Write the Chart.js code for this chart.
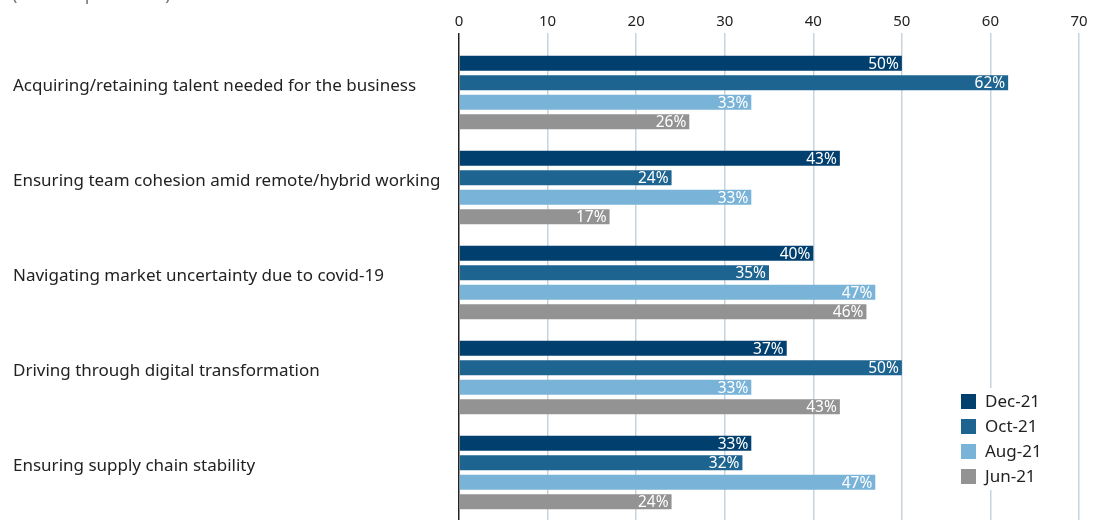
<!DOCTYPE html>
<html>
<head>
<meta charset="utf-8">
<script src="https://cdn.jsdelivr.net/npm/chart.js@4/dist/chart.umd.min.js"></script>
<style>
  html, body { margin: 0; padding: 0; background: #fff; }
  #wrap { width: 1106px; height: 520px; position: relative; }
</style>
</head>
<body>
<div id="wrap"><canvas id="challengesChart"></canvas></div>
<script>
const categories = [
  'Acquiring/retaining talent needed for the business',
  'Ensuring team cohesion amid remote/hybrid working',
  'Navigating market uncertainty due to covid-19',
  'Driving through digital transformation',
  'Ensuring supply chain stability'
];
const seriesNames = ['Dec-21', 'Oct-21', 'Aug-21', 'Jun-21'];
const dec21 = [50, 43, 40, 37, 33];
const oct21 = [62, 24, 35, 50, 32];
const aug21 = [33, 33, 47, 33, 47];
const jun21 = [26, 17, 46, 43, 24];
const xTicks = [0, 10, 20, 30, 40, 50, 60, 70];
const subtitle = '(% of respondents)';

const colors = ['#003f6e', '#1e6491', '#7ab3d8', '#939393'];
const FONT = "'Noto Sans', sans-serif";

// white value labels tucked inside the end of each bar
const valueLabels = {
  id: 'valueLabels',
  afterDatasetsDraw(chart) {
    const ctx = chart.ctx;
    ctx.save();
    ctx.font = '15.5px ' + FONT;
    ctx.fillStyle = '#fff';
    ctx.textAlign = 'right';
    ctx.textBaseline = 'middle';
    chart.data.datasets.forEach((ds, i) => {
      chart.getDatasetMeta(i).data.forEach((bar, j) => {
        ctx.fillText(ds.data[j] + '%', bar.x - 3, bar.y + 1);
      });
    });
    ctx.restore();
  }
};

// legend box sitting over the bottom-right of the plot
const boxLegend = {
  id: 'boxLegend',
  afterDraw(chart) {
    const ctx = chart.ctx;
    ctx.save();
    ctx.fillStyle = '#fff';
    ctx.fillRect(948, 388, 104, 102);
    ctx.font = '17px ' + FONT;
    ctx.textBaseline = 'middle';
    ctx.textAlign = 'left';
    chart.data.datasets.forEach((ds, i) => {
      const y = 401 + i * 25;
      ctx.fillStyle = ds.backgroundColor;
      ctx.fillRect(961, y - 7, 15, 15);
      ctx.fillStyle = '#222';
      ctx.fillText(ds.label, 985, y + 1);
    });
    ctx.restore();
  }
};

// subtitle line, mostly cut off at the top edge
const subtitleText = {
  id: 'subtitleText',
  afterDraw(chart) {
    const ctx = chart.ctx;
    ctx.save();
    ctx.font = '18px ' + FONT;
    ctx.fillStyle = '#777';
    ctx.textBaseline = 'alphabetic';
    ctx.fillText(subtitle, 12, 0);
    ctx.restore();
  }
};

const seriesData = [dec21, oct21, aug21, jun21];

new Chart(document.getElementById('challengesChart'), {
  type: 'bar',
  data: {
    labels: categories,
    datasets: seriesNames.map((name, i) => ({
      label: name,
      data: seriesData[i],
      backgroundColor: colors[i],
      borderWidth: 0,
      barPercentage: 0.77,
      categoryPercentage: 0.82
    }))
  },
  options: {
    indexAxis: 'y',
    responsive: true,
    maintainAspectRatio: false,
    animation: false,
    layout: {padding: {left: 13, right: 27, top: 0, bottom: 0}},
    plugins: {
      legend: {display: false},
      tooltip: {enabled: false}
    },
    scales: {
      x: {
        position: 'top',
        min: 0,
        max: 70,
        afterBuildTicks: scale => { scale.ticks = xTicks.map(v => ({value: v})); },
        afterFit: scale => { scale.height = 45; scale.paddingLeft = 0; scale.paddingRight = 0; },
        border: {display: false},
        grid: {
          color: c => c.tick.value === 0 ? '#222' : '#c5d4df',
          lineWidth: 1.5,
          tickLength: 12,
          drawTicks: true
        },
        ticks: {
          color: '#222',
          font: {family: FONT, size: 15},
          padding: 2
        }
      },
      y: {
        border: {display: false},
        grid: {display: false},
        afterFit: scale => { scale.width = 446; scale.paddingTop = 0; scale.paddingBottom = 0; },
        ticks: {
          crossAlign: 'far',
          color: '#222',
          labelOffset: -6,
          font: {family: FONT, size: 17}
        }
      }
    }
  },
  plugins: [valueLabels, boxLegend, subtitleText]
});
</script>
</body>
</html>
